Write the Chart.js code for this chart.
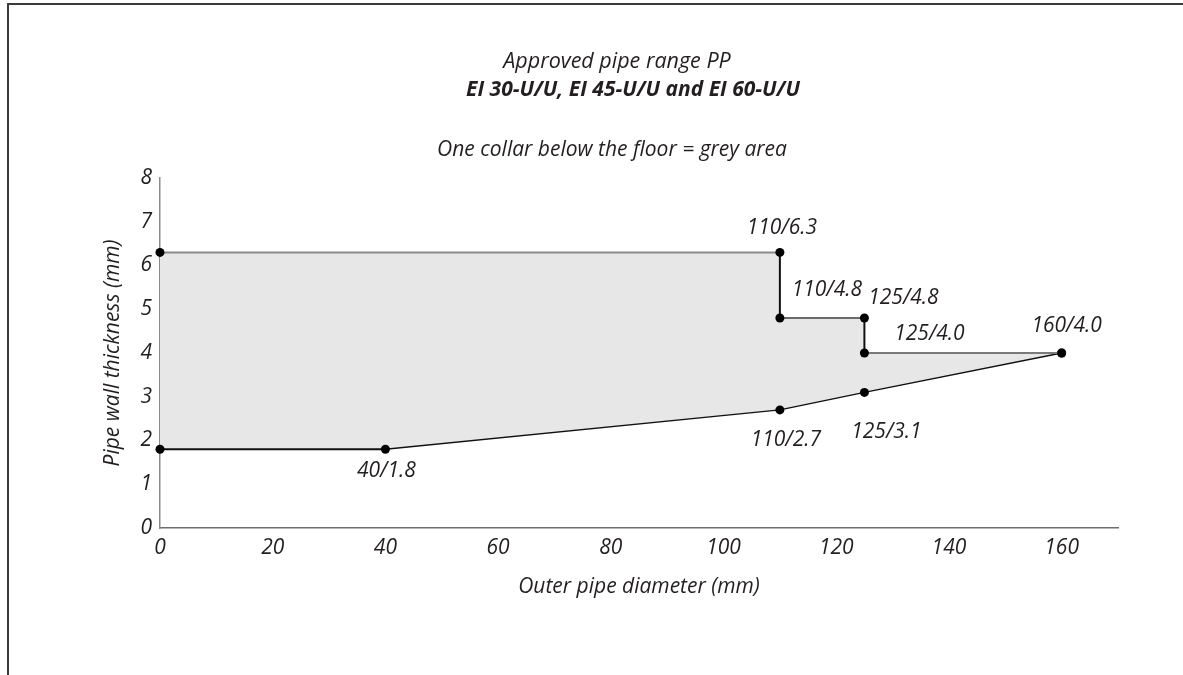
<!DOCTYPE html>
<html><head><meta charset="utf-8">
<script src="https://cdn.jsdelivr.net/npm/chart.js@4.4.1/dist/chart.umd.min.js"></script>
<style>
html,body{margin:0;padding:0;background:#fff;}
#wrap{position:relative;width:1183px;height:675px;overflow:hidden;}
#frame{position:absolute;left:7px;top:3px;right:-10px;bottom:-10px;border-left:2px solid #3a3a3a;border-top:2px solid #3a3a3a;pointer-events:none;}
canvas{position:absolute;left:0;top:0;}
</style></head><body>
<div id="wrap"><canvas id="c" width="1183" height="675"></canvas><div id="frame"></div></div>
<script>
// ---- data ----
// upper boundary of the approved (grey) area
const upperDiameters = [0, 110, 110, 125, 125, 160];
const upperThickness = [6.3, 6.3, 4.8, 4.8, 4.0, 4.0];
const upperLabels = ['', '110/6.3', '110/4.8', '125/4.8', '125/4.0', '160/4.0'];
// lower boundary of the approved (grey) area
const lowerDiameters = [0, 40, 110, 125, 160];
const lowerThickness = [1.8, 1.8, 2.7, 3.1, 4.0];
const lowerLabels = ['', '40/1.8', '110/2.7', '125/3.1', ''];
const xTicks = [0, 20, 40, 60, 80, 100, 120, 140, 160];
const yTicks = [0, 1, 2, 3, 4, 5, 6, 7, 8];
const titleLine1 = 'Approved pipe range PP';
const titleLine2 = 'EI 30-U/U, EI 45-U/U and EI 60-U/U';
const titleLine3 = 'One collar below the floor = grey area';
const xTitle = 'Outer pipe diameter (mm)';
const yTitle = 'Pipe wall thickness (mm)';

// ---- styles ----
const FONT = "'Open Sans', 'Noto Sans', sans-serif";
const TXT = '#231f20';
const upperSegColors = ['#8a8a8a', '#111', '#6a6a6a', '#111', '#7a7a7a'];
const upperSegWidths = [2, 2, 2, 2, 2];
const lowerSegColors = ['#111', '#111', '#111', '#111'];
const lowerSegWidths = [2, 1.3, 1.5, 1.5];
const upperOffsets = [[0,0],[2,-24],[47,-28],[39,-20],[65,-19],[5,-27]];
const lowerOffsets = [[0,0],[1,22],[6,30],[22,40],[0,0]];

const upperPts = upperDiameters.map((d, i) => ({x: d, y: upperThickness[i]}));
const lowerPts = lowerDiameters.map((d, i) => ({x: d, y: lowerThickness[i]}));

const labelPlugin = {
  id: 'pointLabels',
  afterDatasetsDraw(chart) {
    const ctx = chart.ctx;
    ctx.save();
    ctx.font = 'italic 21px ' + FONT;
    ctx.fillStyle = TXT;
    ctx.textAlign = 'center';
    ctx.textBaseline = 'middle';
    [[2, upperLabels, upperOffsets], [3, lowerLabels, lowerOffsets]].forEach(([di, labs, offs]) => {
      chart.getDatasetMeta(di).data.forEach((el, i) => {
        if (!labs[i]) return;
        ctx.fillText(labs[i], el.x + offs[i][0], el.y + offs[i][1]);
      });
    });
    ctx.restore();
  }
};

const titlePlugin = {
  id: 'titles',
  afterDraw(chart) {
    const ctx = chart.ctx;
    ctx.save();
    ctx.fillStyle = TXT;
    ctx.textAlign = 'center';
    ctx.textBaseline = 'middle';
    ctx.font = 'italic 21.5px ' + FONT;
    ctx.fillText(titleLine1, 617, 62);
    ctx.font = 'italic bold 21px ' + FONT;
    ctx.fillText(titleLine2, 633, 90);
    ctx.font = 'italic 21px ' + FONT;
    ctx.fillText(titleLine3, 612, 150);
    ctx.restore();
  }
};

const common = {
  tension: 0,
  pointBackgroundColor: '#000',
  pointBorderWidth: 0,
  clip: false
};

new Chart(document.getElementById('c'), {
  type: 'line',
  data: {
    datasets: [
      // grey area (fill only)
      Object.assign({data: upperPts, fill: '+1', backgroundColor: '#e7e7e7', borderWidth: 0, borderColor: 'rgba(0,0,0,0)', pointRadius: 0}, common),
      Object.assign({data: lowerPts, fill: false, borderWidth: 0, borderColor: 'rgba(0,0,0,0)', pointRadius: 0}, common),
      // boundary lines with points
      Object.assign({
        data: upperPts,
        fill: false,
        borderColor: '#111',
        borderWidth: 2,
        pointRadius: 4.5,
        segment: {
          borderColor: c => upperSegColors[c.p0DataIndex],
          borderWidth: c => upperSegWidths[c.p0DataIndex]
        }
      }, common),
      Object.assign({
        data: lowerPts,
        fill: false,
        borderColor: '#111',
        borderWidth: 1.5,
        pointRadius: 4.5,
        segment: {
          borderColor: c => lowerSegColors[c.p0DataIndex],
          borderWidth: c => lowerSegWidths[c.p0DataIndex]
        }
      }, common)
    ]
  },
  options: {
    responsive: false,
    animation: false,
    events: [],
    layout: {padding: {left: 100, top: 178, right: 65, bottom: 75}},
    plugins: {legend: {display: false}, tooltip: {enabled: false}, filler: {drawTime: 'beforeDatasetsDraw'}},
    scales: {
      x: {
        type: 'linear', min: 0, max: 170,
        grid: {display: false, drawTicks: false},
        border: {display: true, color: '#6e6e6e', width: 1.5},
        afterBuildTicks: s => { s.ticks = xTicks.map(v => ({value: v})); },
        afterFit: s => { s.height = 72; },
        ticks: {padding: 7, color: TXT, font: {family: FONT, size: 21, style: 'italic'}, maxRotation: 0},
        title: {display: true, text: xTitle, color: TXT, padding: 0, font: {family: FONT, size: 21, style: 'italic'}}
      },
      y: {
        type: 'linear', min: 0, max: 8,
        grid: {display: false, drawTicks: false},
        border: {display: true, color: '#8a8a8a', width: 1.5},
        afterBuildTicks: s => { s.ticks = yTicks.map(v => ({value: v})); },
        afterFit: s => { s.width = 60; },
        ticks: {padding: 8, color: TXT, font: {family: FONT, size: 21, style: 'italic'}},
        title: {display: true, text: yTitle, color: TXT, padding: 0, font: {family: FONT, size: 21, style: 'italic'}}
      }
    }
  },
  plugins: [labelPlugin, titlePlugin]
});
</script>
</body></html>
